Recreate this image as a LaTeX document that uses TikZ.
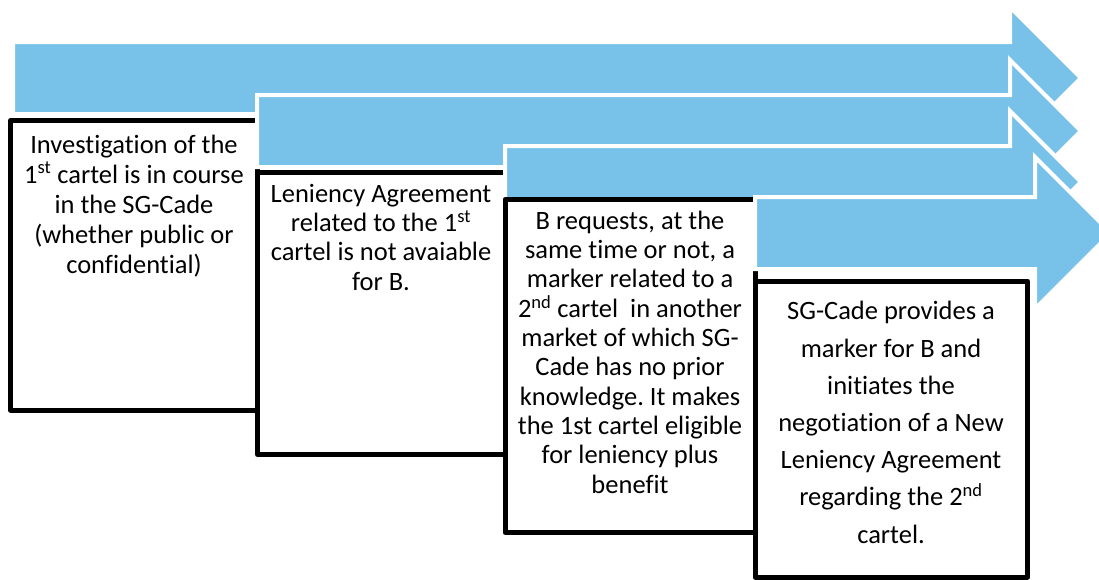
\documentclass[tikz,border=0pt]{standalone}
\usepackage{fontspec}
\setmainfont{Carlito}[Ligatures=NoCommon]
\frenchspacing
\definecolor{arrowblue}{HTML}{78C1E8}
\begin{document}
\begin{tikzpicture}[x=1pt,y=-1pt,
  stagearrow/.style={fill=arrowblue, draw=white, line width=4pt, line join=miter},
  stepbox/.style={draw=black, fill=white, line width=5pt, line join=round, outer sep=0pt, inner sep=0pt, anchor=north west},
  boxtext/.style={align=center, inner sep=0pt, anchor=base, font=\fontsize{26.5}{29.3}\selectfont},
  boxtextfirst/.style={boxtext, font=\fontsize{26.5}{30}\selectfont},
  boxtextwide/.style={boxtext, font=\fontsize{26.5}{37.2}\selectfont}]
\useasboundingbox (0,0) rectangle (1099,579);
% arrow 1 and box 1
\draw[stagearrow] (13,42) -- (1010,42) -- (1010,7) -- (1081,78) -- (1010,149) -- (1010,114) -- (13,114) -- cycle;
\node[stepbox, minimum width=247, minimum height=289.5] (box1) at (10.5,120.5) {};
\node[boxtextfirst] (t1) at (134,273) {Investigation of the\\1\textsuperscript{st} cartel is in course\\in the SG-Cade\\(whether public or\\confidential)};
% arrow 2 and box 2
\draw[stagearrow] (257,95) -- (1010,95) -- (1010,60) -- (1081,131) -- (1010,202) -- (1010,167) -- (257,167) -- cycle;
\node[stepbox, minimum width=247.5, minimum height=282] (box2) at (257.5,172.5) {};
\node[boxtext] (t2) at (381,290) {Leniency Agreement\\related to the 1\textsuperscript{st}\\cartel is not avaiable\\for B.};
% arrow 3 and box 3
\draw[stagearrow] (505,146) -- (1010,146) -- (1010,111) -- (1081,182) -- (1010,253) -- (1010,218) -- (505,218) -- cycle;
\node[stepbox, minimum width=250, minimum height=333] (box3) at (505,199.5) {};
\node[boxtext] (t3) at (630,493) {B requests, at the\\same time or not, a\\marker related to a\\2\textsuperscript{nd} cartel\ \ in another\\market of which SG-\\Cade has no prior\\knowledge. It makes\\the 1st cartel eligible\\for leniency plus\\benefit};
% arrow 4 and box 4
\draw[stagearrow] (755,197) -- (1035,197) -- (1035,157) -- (1111,233) -- (1035,309) -- (1035,269) -- (755,269) -- cycle;
\node[stepbox, minimum width=272.5, minimum height=296] (box4) at (755,281) {};
\node[boxtextwide] (t4) at (891,543) {SG-Cade provides a\\marker for B and\\initiates the\\negotiation of a New\\Leniency Agreement\\regarding the 2\textsuperscript{nd}\\cartel.};
\end{tikzpicture}
\end{document}
